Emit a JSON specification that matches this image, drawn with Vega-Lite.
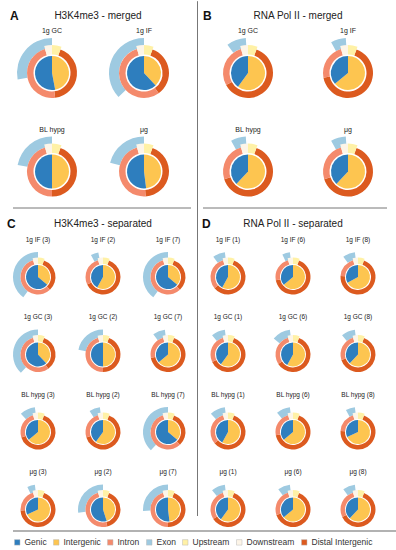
{
"$schema": "https://vega.github.io/schema/vega-lite/v6.json",
"padding": {"left": 7, "top": 0, "right": 0, "bottom": 0},
"config": {
  "font": "Liberation Sans",
  "view": {"stroke": null},
  "legend": {"orient": "bottom", "direction": "horizontal", "labelFontSize": 8.5, "labelColor": "#333", "symbolType": "square", "symbolSize": 30, "symbolStrokeColor": "#bbb", "symbolStrokeWidth": 0.5, "columnPadding": 5, "labelOffset": 3, "offset": 6}
},
"data": {"values": [
{"panel":"A","sample":"1g GC","feature":"Intergenic","start":0,"end":0.47},
{"panel":"A","sample":"1g GC","feature":"Genic","start":0.47,"end":1},
{"panel":"A","sample":"1g GC","feature":"Upstream","start":0,"end":0.055},
{"panel":"A","sample":"1g GC","feature":"Distal Intergenic","start":0.055,"end":0.48},
{"panel":"A","sample":"1g GC","feature":"Intron","start":0.48,"end":0.955},
{"panel":"A","sample":"1g GC","feature":"Downstream","start":0.955,"end":1},
{"panel":"A","sample":"1g GC","feature":"Exon","start":0.72,"end":1},
{"panel":"A","sample":"1g IF","feature":"Intergenic","start":0,"end":0.38},
{"panel":"A","sample":"1g IF","feature":"Genic","start":0.38,"end":1},
{"panel":"A","sample":"1g IF","feature":"Upstream","start":0,"end":0.055},
{"panel":"A","sample":"1g IF","feature":"Distal Intergenic","start":0.055,"end":0.40},
{"panel":"A","sample":"1g IF","feature":"Intron","start":0.40,"end":0.955},
{"panel":"A","sample":"1g IF","feature":"Downstream","start":0.955,"end":1},
{"panel":"A","sample":"1g IF","feature":"Exon","start":0.63,"end":1},
{"panel":"A","sample":"BL hypg","feature":"Intergenic","start":0,"end":0.50},
{"panel":"A","sample":"BL hypg","feature":"Genic","start":0.50,"end":1},
{"panel":"A","sample":"BL hypg","feature":"Upstream","start":0,"end":0.055},
{"panel":"A","sample":"BL hypg","feature":"Distal Intergenic","start":0.055,"end":0.50},
{"panel":"A","sample":"BL hypg","feature":"Intron","start":0.50,"end":0.955},
{"panel":"A","sample":"BL hypg","feature":"Downstream","start":0.955,"end":1},
{"panel":"A","sample":"BL hypg","feature":"Exon","start":0.78,"end":1},
{"panel":"A","sample":"μg","feature":"Intergenic","start":0,"end":0.48},
{"panel":"A","sample":"μg","feature":"Genic","start":0.48,"end":1},
{"panel":"A","sample":"μg","feature":"Upstream","start":0,"end":0.055},
{"panel":"A","sample":"μg","feature":"Distal Intergenic","start":0.055,"end":0.49},
{"panel":"A","sample":"μg","feature":"Intron","start":0.49,"end":0.955},
{"panel":"A","sample":"μg","feature":"Downstream","start":0.955,"end":1},
{"panel":"A","sample":"μg","feature":"Exon","start":0.79,"end":1},
{"panel":"B","sample":"1g GC","feature":"Intergenic","start":0,"end":0.60},
{"panel":"B","sample":"1g GC","feature":"Genic","start":0.60,"end":1},
{"panel":"B","sample":"1g GC","feature":"Upstream","start":0,"end":0.055},
{"panel":"B","sample":"1g GC","feature":"Distal Intergenic","start":0.055,"end":0.67},
{"panel":"B","sample":"1g GC","feature":"Intron","start":0.67,"end":0.955},
{"panel":"B","sample":"1g GC","feature":"Downstream","start":0.955,"end":1},
{"panel":"B","sample":"1g GC","feature":"Exon","start":0.90,"end":0.99},
{"panel":"B","sample":"1g IF","feature":"Intergenic","start":0,"end":0.64},
{"panel":"B","sample":"1g IF","feature":"Genic","start":0.64,"end":1},
{"panel":"B","sample":"1g IF","feature":"Upstream","start":0,"end":0.055},
{"panel":"B","sample":"1g IF","feature":"Distal Intergenic","start":0.055,"end":0.72},
{"panel":"B","sample":"1g IF","feature":"Intron","start":0.72,"end":0.955},
{"panel":"B","sample":"1g IF","feature":"Downstream","start":0.955,"end":1},
{"panel":"B","sample":"1g IF","feature":"Exon","start":0.92,"end":0.99},
{"panel":"B","sample":"BL hypg","feature":"Intergenic","start":0,"end":0.62},
{"panel":"B","sample":"BL hypg","feature":"Genic","start":0.62,"end":1},
{"panel":"B","sample":"BL hypg","feature":"Upstream","start":0,"end":0.055},
{"panel":"B","sample":"BL hypg","feature":"Distal Intergenic","start":0.055,"end":0.70},
{"panel":"B","sample":"BL hypg","feature":"Intron","start":0.70,"end":0.955},
{"panel":"B","sample":"BL hypg","feature":"Downstream","start":0.955,"end":1},
{"panel":"B","sample":"BL hypg","feature":"Exon","start":0.92,"end":0.99},
{"panel":"B","sample":"μg","feature":"Intergenic","start":0,"end":0.62},
{"panel":"B","sample":"μg","feature":"Genic","start":0.62,"end":1},
{"panel":"B","sample":"μg","feature":"Upstream","start":0,"end":0.055},
{"panel":"B","sample":"μg","feature":"Distal Intergenic","start":0.055,"end":0.70},
{"panel":"B","sample":"μg","feature":"Intron","start":0.70,"end":0.955},
{"panel":"B","sample":"μg","feature":"Downstream","start":0.955,"end":1},
{"panel":"B","sample":"μg","feature":"Exon","start":0.92,"end":0.99},
{"panel":"C","sample":"1g IF (3)","feature":"Intergenic","start":0,"end":0.36},
{"panel":"C","sample":"1g IF (3)","feature":"Genic","start":0.36,"end":1},
{"panel":"C","sample":"1g IF (3)","feature":"Upstream","start":0,"end":0.055},
{"panel":"C","sample":"1g IF (3)","feature":"Distal Intergenic","start":0.055,"end":0.38},
{"panel":"C","sample":"1g IF (3)","feature":"Intron","start":0.38,"end":0.955},
{"panel":"C","sample":"1g IF (3)","feature":"Downstream","start":0.955,"end":1},
{"panel":"C","sample":"1g IF (3)","feature":"Exon","start":0.60,"end":1},
{"panel":"C","sample":"1g IF (2)","feature":"Intergenic","start":0,"end":0.58},
{"panel":"C","sample":"1g IF (2)","feature":"Genic","start":0.58,"end":1},
{"panel":"C","sample":"1g IF (2)","feature":"Upstream","start":0,"end":0.055},
{"panel":"C","sample":"1g IF (2)","feature":"Distal Intergenic","start":0.055,"end":0.68},
{"panel":"C","sample":"1g IF (2)","feature":"Intron","start":0.68,"end":0.955},
{"panel":"C","sample":"1g IF (2)","feature":"Downstream","start":0.955,"end":1},
{"panel":"C","sample":"1g IF (2)","feature":"Exon","start":0.92,"end":0.97},
{"panel":"C","sample":"1g IF (7)","feature":"Intergenic","start":0,"end":0.36},
{"panel":"C","sample":"1g IF (7)","feature":"Genic","start":0.36,"end":1},
{"panel":"C","sample":"1g IF (7)","feature":"Upstream","start":0,"end":0.055},
{"panel":"C","sample":"1g IF (7)","feature":"Distal Intergenic","start":0.055,"end":0.38},
{"panel":"C","sample":"1g IF (7)","feature":"Intron","start":0.38,"end":0.955},
{"panel":"C","sample":"1g IF (7)","feature":"Downstream","start":0.955,"end":1},
{"panel":"C","sample":"1g IF (7)","feature":"Exon","start":0.60,"end":1},
{"panel":"C","sample":"1g GC (3)","feature":"Intergenic","start":0,"end":0.38},
{"panel":"C","sample":"1g GC (3)","feature":"Genic","start":0.38,"end":1},
{"panel":"C","sample":"1g GC (3)","feature":"Upstream","start":0,"end":0.055},
{"panel":"C","sample":"1g GC (3)","feature":"Distal Intergenic","start":0.055,"end":0.40},
{"panel":"C","sample":"1g GC (3)","feature":"Intron","start":0.40,"end":0.955},
{"panel":"C","sample":"1g GC (3)","feature":"Downstream","start":0.955,"end":1},
{"panel":"C","sample":"1g GC (3)","feature":"Exon","start":0.62,"end":1},
{"panel":"C","sample":"1g GC (2)","feature":"Intergenic","start":0,"end":0.50},
{"panel":"C","sample":"1g GC (2)","feature":"Genic","start":0.50,"end":1},
{"panel":"C","sample":"1g GC (2)","feature":"Upstream","start":0,"end":0.055},
{"panel":"C","sample":"1g GC (2)","feature":"Distal Intergenic","start":0.055,"end":0.50},
{"panel":"C","sample":"1g GC (2)","feature":"Intron","start":0.50,"end":0.955},
{"panel":"C","sample":"1g GC (2)","feature":"Downstream","start":0.955,"end":1},
{"panel":"C","sample":"1g GC (2)","feature":"Exon","start":0.78,"end":1},
{"panel":"C","sample":"1g GC (7)","feature":"Intergenic","start":0,"end":0.64},
{"panel":"C","sample":"1g GC (7)","feature":"Genic","start":0.64,"end":1},
{"panel":"C","sample":"1g GC (7)","feature":"Upstream","start":0,"end":0.055},
{"panel":"C","sample":"1g GC (7)","feature":"Distal Intergenic","start":0.055,"end":0.72},
{"panel":"C","sample":"1g GC (7)","feature":"Intron","start":0.72,"end":0.955},
{"panel":"C","sample":"1g GC (7)","feature":"Downstream","start":0.955,"end":1},
{"panel":"C","sample":"1g GC (7)","feature":"Exon","start":0.90,"end":0.98},
{"panel":"C","sample":"BL hypg (3)","feature":"Intergenic","start":0,"end":0.64},
{"panel":"C","sample":"BL hypg (3)","feature":"Genic","start":0.64,"end":1},
{"panel":"C","sample":"BL hypg (3)","feature":"Upstream","start":0,"end":0.055},
{"panel":"C","sample":"BL hypg (3)","feature":"Distal Intergenic","start":0.055,"end":0.70},
{"panel":"C","sample":"BL hypg (3)","feature":"Intron","start":0.70,"end":0.955},
{"panel":"C","sample":"BL hypg (3)","feature":"Downstream","start":0.955,"end":1},
{"panel":"C","sample":"BL hypg (3)","feature":"Exon","start":0.88,"end":0.98},
{"panel":"C","sample":"BL hypg (2)","feature":"Intergenic","start":0,"end":0.60},
{"panel":"C","sample":"BL hypg (2)","feature":"Genic","start":0.60,"end":1},
{"panel":"C","sample":"BL hypg (2)","feature":"Upstream","start":0,"end":0.055},
{"panel":"C","sample":"BL hypg (2)","feature":"Distal Intergenic","start":0.055,"end":0.70},
{"panel":"C","sample":"BL hypg (2)","feature":"Intron","start":0.70,"end":0.955},
{"panel":"C","sample":"BL hypg (2)","feature":"Downstream","start":0.955,"end":1},
{"panel":"C","sample":"BL hypg (2)","feature":"Exon","start":0.91,"end":0.98},
{"panel":"C","sample":"BL hypg (7)","feature":"Intergenic","start":0,"end":0.36},
{"panel":"C","sample":"BL hypg (7)","feature":"Genic","start":0.36,"end":1},
{"panel":"C","sample":"BL hypg (7)","feature":"Upstream","start":0,"end":0.055},
{"panel":"C","sample":"BL hypg (7)","feature":"Distal Intergenic","start":0.055,"end":0.38},
{"panel":"C","sample":"BL hypg (7)","feature":"Intron","start":0.38,"end":0.955},
{"panel":"C","sample":"BL hypg (7)","feature":"Downstream","start":0.955,"end":1},
{"panel":"C","sample":"BL hypg (7)","feature":"Exon","start":0.62,"end":1},
{"panel":"C","sample":"μg (3)","feature":"Intergenic","start":0,"end":0.68},
{"panel":"C","sample":"μg (3)","feature":"Genic","start":0.68,"end":1},
{"panel":"C","sample":"μg (3)","feature":"Upstream","start":0,"end":0.055},
{"panel":"C","sample":"μg (3)","feature":"Distal Intergenic","start":0.055,"end":0.74},
{"panel":"C","sample":"μg (3)","feature":"Intron","start":0.74,"end":0.955},
{"panel":"C","sample":"μg (3)","feature":"Downstream","start":0.955,"end":1},
{"panel":"C","sample":"μg (3)","feature":"Exon","start":0.93,"end":0.98},
{"panel":"C","sample":"μg (2)","feature":"Intergenic","start":0,"end":0.45},
{"panel":"C","sample":"μg (2)","feature":"Genic","start":0.45,"end":1},
{"panel":"C","sample":"μg (2)","feature":"Upstream","start":0,"end":0.055},
{"panel":"C","sample":"μg (2)","feature":"Distal Intergenic","start":0.055,"end":0.46},
{"panel":"C","sample":"μg (2)","feature":"Intron","start":0.46,"end":0.955},
{"panel":"C","sample":"μg (2)","feature":"Downstream","start":0.955,"end":1},
{"panel":"C","sample":"μg (2)","feature":"Exon","start":0.73,"end":1},
{"panel":"C","sample":"μg (7)","feature":"Intergenic","start":0,"end":0.48},
{"panel":"C","sample":"μg (7)","feature":"Genic","start":0.48,"end":1},
{"panel":"C","sample":"μg (7)","feature":"Upstream","start":0,"end":0.055},
{"panel":"C","sample":"μg (7)","feature":"Distal Intergenic","start":0.055,"end":0.50},
{"panel":"C","sample":"μg (7)","feature":"Intron","start":0.50,"end":0.955},
{"panel":"C","sample":"μg (7)","feature":"Downstream","start":0.955,"end":1},
{"panel":"C","sample":"μg (7)","feature":"Exon","start":0.74,"end":1},
{"panel":"D","sample":"1g IF (1)","feature":"Intergenic","start":0,"end":0.58},
{"panel":"D","sample":"1g IF (1)","feature":"Genic","start":0.58,"end":1},
{"panel":"D","sample":"1g IF (1)","feature":"Upstream","start":0,"end":0.055},
{"panel":"D","sample":"1g IF (1)","feature":"Distal Intergenic","start":0.055,"end":0.64},
{"panel":"D","sample":"1g IF (1)","feature":"Intron","start":0.64,"end":0.955},
{"panel":"D","sample":"1g IF (1)","feature":"Downstream","start":0.955,"end":1},
{"panel":"D","sample":"1g IF (1)","feature":"Exon","start":0.90,"end":0.98},
{"panel":"D","sample":"1g IF (6)","feature":"Intergenic","start":0,"end":0.64},
{"panel":"D","sample":"1g IF (6)","feature":"Genic","start":0.64,"end":1},
{"panel":"D","sample":"1g IF (6)","feature":"Upstream","start":0,"end":0.055},
{"panel":"D","sample":"1g IF (6)","feature":"Distal Intergenic","start":0.055,"end":0.72},
{"panel":"D","sample":"1g IF (6)","feature":"Intron","start":0.72,"end":0.955},
{"panel":"D","sample":"1g IF (6)","feature":"Downstream","start":0.955,"end":1},
{"panel":"D","sample":"1g IF (6)","feature":"Exon","start":0.93,"end":0.98},
{"panel":"D","sample":"1g IF (8)","feature":"Intergenic","start":0,"end":0.67},
{"panel":"D","sample":"1g IF (8)","feature":"Genic","start":0.67,"end":1},
{"panel":"D","sample":"1g IF (8)","feature":"Upstream","start":0,"end":0.055},
{"panel":"D","sample":"1g IF (8)","feature":"Distal Intergenic","start":0.055,"end":0.76},
{"panel":"D","sample":"1g IF (8)","feature":"Intron","start":0.76,"end":0.955},
{"panel":"D","sample":"1g IF (8)","feature":"Downstream","start":0.955,"end":1},
{"panel":"D","sample":"1g IF (8)","feature":"Exon","start":0.90,"end":0.98},
{"panel":"D","sample":"1g GC (1)","feature":"Intergenic","start":0,"end":0.60},
{"panel":"D","sample":"1g GC (1)","feature":"Genic","start":0.60,"end":1},
{"panel":"D","sample":"1g GC (1)","feature":"Upstream","start":0,"end":0.055},
{"panel":"D","sample":"1g GC (1)","feature":"Distal Intergenic","start":0.055,"end":0.68},
{"panel":"D","sample":"1g GC (1)","feature":"Intron","start":0.68,"end":0.955},
{"panel":"D","sample":"1g GC (1)","feature":"Downstream","start":0.955,"end":1},
{"panel":"D","sample":"1g GC (1)","feature":"Exon","start":0.89,"end":0.98},
{"panel":"D","sample":"1g GC (6)","feature":"Intergenic","start":0,"end":0.58},
{"panel":"D","sample":"1g GC (6)","feature":"Genic","start":0.58,"end":1},
{"panel":"D","sample":"1g GC (6)","feature":"Upstream","start":0,"end":0.055},
{"panel":"D","sample":"1g GC (6)","feature":"Distal Intergenic","start":0.055,"end":0.66},
{"panel":"D","sample":"1g GC (6)","feature":"Intron","start":0.66,"end":0.955},
{"panel":"D","sample":"1g GC (6)","feature":"Downstream","start":0.955,"end":1},
{"panel":"D","sample":"1g GC (6)","feature":"Exon","start":0.86,"end":0.98},
{"panel":"D","sample":"1g GC (8)","feature":"Intergenic","start":0,"end":0.62},
{"panel":"D","sample":"1g GC (8)","feature":"Genic","start":0.62,"end":1},
{"panel":"D","sample":"1g GC (8)","feature":"Upstream","start":0,"end":0.055},
{"panel":"D","sample":"1g GC (8)","feature":"Distal Intergenic","start":0.055,"end":0.70},
{"panel":"D","sample":"1g GC (8)","feature":"Intron","start":0.70,"end":0.955},
{"panel":"D","sample":"1g GC (8)","feature":"Downstream","start":0.955,"end":1},
{"panel":"D","sample":"1g GC (8)","feature":"Exon","start":0.89,"end":0.98},
{"panel":"D","sample":"BL hypg (1)","feature":"Intergenic","start":0,"end":0.58},
{"panel":"D","sample":"BL hypg (1)","feature":"Genic","start":0.58,"end":1},
{"panel":"D","sample":"BL hypg (1)","feature":"Upstream","start":0,"end":0.055},
{"panel":"D","sample":"BL hypg (1)","feature":"Distal Intergenic","start":0.055,"end":0.64},
{"panel":"D","sample":"BL hypg (1)","feature":"Intron","start":0.64,"end":0.955},
{"panel":"D","sample":"BL hypg (1)","feature":"Downstream","start":0.955,"end":1},
{"panel":"D","sample":"BL hypg (1)","feature":"Exon","start":0.88,"end":0.98},
{"panel":"D","sample":"BL hypg (6)","feature":"Intergenic","start":0,"end":0.64},
{"panel":"D","sample":"BL hypg (6)","feature":"Genic","start":0.64,"end":1},
{"panel":"D","sample":"BL hypg (6)","feature":"Upstream","start":0,"end":0.055},
{"panel":"D","sample":"BL hypg (6)","feature":"Distal Intergenic","start":0.055,"end":0.72},
{"panel":"D","sample":"BL hypg (6)","feature":"Intron","start":0.72,"end":0.955},
{"panel":"D","sample":"BL hypg (6)","feature":"Downstream","start":0.955,"end":1},
{"panel":"D","sample":"BL hypg (6)","feature":"Exon","start":0.89,"end":0.98},
{"panel":"D","sample":"BL hypg (8)","feature":"Intergenic","start":0,"end":0.68},
{"panel":"D","sample":"BL hypg (8)","feature":"Genic","start":0.68,"end":1},
{"panel":"D","sample":"BL hypg (8)","feature":"Upstream","start":0,"end":0.055},
{"panel":"D","sample":"BL hypg (8)","feature":"Distal Intergenic","start":0.055,"end":0.76},
{"panel":"D","sample":"BL hypg (8)","feature":"Intron","start":0.76,"end":0.955},
{"panel":"D","sample":"BL hypg (8)","feature":"Downstream","start":0.955,"end":1},
{"panel":"D","sample":"BL hypg (8)","feature":"Exon","start":0.92,"end":0.98},
{"panel":"D","sample":"μg (1)","feature":"Intergenic","start":0,"end":0.60},
{"panel":"D","sample":"μg (1)","feature":"Genic","start":0.60,"end":1},
{"panel":"D","sample":"μg (1)","feature":"Upstream","start":0,"end":0.055},
{"panel":"D","sample":"μg (1)","feature":"Distal Intergenic","start":0.055,"end":0.66},
{"panel":"D","sample":"μg (1)","feature":"Intron","start":0.66,"end":0.955},
{"panel":"D","sample":"μg (1)","feature":"Downstream","start":0.955,"end":1},
{"panel":"D","sample":"μg (1)","feature":"Exon","start":0.89,"end":0.98},
{"panel":"D","sample":"μg (6)","feature":"Intergenic","start":0,"end":0.64},
{"panel":"D","sample":"μg (6)","feature":"Genic","start":0.64,"end":1},
{"panel":"D","sample":"μg (6)","feature":"Upstream","start":0,"end":0.055},
{"panel":"D","sample":"μg (6)","feature":"Distal Intergenic","start":0.055,"end":0.70},
{"panel":"D","sample":"μg (6)","feature":"Intron","start":0.70,"end":0.955},
{"panel":"D","sample":"μg (6)","feature":"Downstream","start":0.955,"end":1},
{"panel":"D","sample":"μg (6)","feature":"Exon","start":0.90,"end":0.98},
{"panel":"D","sample":"μg (8)","feature":"Intergenic","start":0,"end":0.62},
{"panel":"D","sample":"μg (8)","feature":"Genic","start":0.62,"end":1},
{"panel":"D","sample":"μg (8)","feature":"Upstream","start":0,"end":0.055},
{"panel":"D","sample":"μg (8)","feature":"Distal Intergenic","start":0.055,"end":0.68},
{"panel":"D","sample":"μg (8)","feature":"Intron","start":0.68,"end":0.955},
{"panel":"D","sample":"μg (8)","feature":"Downstream","start":0.955,"end":1},
{"panel":"D","sample":"μg (8)","feature":"Exon","start":0.90,"end":0.98}
]},
"spacing": 0,
"vconcat": [
 {"hconcat": [
  {"vconcat": [
   {"transform": [{"filter": "datum.panel === 'A'"}],
    "title": {"text": "A", "anchor": "start", "fontSize": 12, "fontWeight": "bold", "offset": -12, "dx": -3, "color": "#111"},
    "facet": {"field": "sample", "type": "nominal", "sort": ["1g GC", "1g IF", "BL hypg", "μg"],
      "header": {"title": "H3K4me3 - merged", "titleFontSize": 10, "titleFontWeight": "normal", "titleColor": "#222", "titlePadding": 6, "labelFontSize": 7, "labelPadding": 4, "labelColor": "#222"}},
    "columns": 2,
    "spacing": {"row": 17.5, "column": 14},
    "spec": {"width": 78, "height": 70, "layer": [
      {"transform": [{"filter": "datum.feature === 'Exon'"}], "mark": {"type": "arc", "radius": 35, "radius2": 25},
       "encoding": {"theta": {"field": "start", "type": "quantitative", "stack": null, "scale": {"domain": [0, 1], "range": [0, 6.283185]}}, "theta2": {"field": "end"},
        "color": {"field": "feature", "type": "nominal", "scale": {"domain": ["Genic", "Intergenic", "Intron", "Exon", "Upstream", "Downstream", "Distal Intergenic"], "range": ["#2e7ebe", "#fdc550", "#f48a6c", "#9ecae1", "#fff1a6", "#fdf5e8", "#dc5a1f"]}, "legend": {"title": null}}}},
      {"transform": [{"filter": "datum.feature === 'Intron' || datum.feature === 'Distal Intergenic'"}], "mark": {"type": "arc", "radius": 25, "radius2": 18.5},
       "encoding": {"theta": {"field": "start", "type": "quantitative", "stack": null, "scale": {"domain": [0, 1], "range": [0, 6.283185]}}, "theta2": {"field": "end"},
        "color": {"field": "feature", "type": "nominal", "legend": {"title": null}}}},
      {"transform": [{"filter": "datum.feature === 'Upstream' || datum.feature === 'Downstream'"}], "mark": {"type": "arc", "radius": 28, "radius2": 18.5},
       "encoding": {"theta": {"field": "start", "type": "quantitative", "stack": null, "scale": {"domain": [0, 1], "range": [0, 6.283185]}}, "theta2": {"field": "end"},
        "color": {"field": "feature", "type": "nominal", "legend": {"title": null}}}},
      {"transform": [{"filter": "datum.feature === 'Genic' || datum.feature === 'Intergenic'"}], "mark": {"type": "arc", "radius": 17},
       "encoding": {"theta": {"field": "start", "type": "quantitative", "stack": null, "scale": {"domain": [0, 1], "range": [0, 6.283185]}}, "theta2": {"field": "end"},
        "color": {"field": "feature", "type": "nominal", "legend": {"title": null}}}}
    ]}
   },
   {"data": {"values": [{}]}, "width": 178, "height": 10, "mark": {"type": "rule", "color": "#777", "strokeWidth": 1},
    "encoding": {"y": {"datum": 1, "type": "quantitative", "scale": {"domain": [0, 1]}, "axis": null}}},
   {"transform": [{"filter": "datum.panel === 'C'"}],
    "title": {"text": "C", "anchor": "start", "fontSize": 12, "fontWeight": "bold", "offset": -12, "dx": -6, "color": "#111"},
    "facet": {"field": "sample", "type": "nominal", "sort": ["1g IF (3)", "1g IF (2)", "1g IF (7)", "1g GC (3)", "1g GC (2)", "1g GC (7)", "BL hypg (3)", "BL hypg (2)", "BL hypg (7)", "μg (3)", "μg (2)", "μg (7)"],
      "header": {"title": "H3K4me3 - separated", "titleFontSize": 10, "titleFontWeight": "normal", "titleColor": "#222", "titlePadding": 7, "labelFontSize": 6.5, "labelPadding": 9, "labelColor": "#222"}},
    "columns": 3,
    "spacing": {"row": 15.5, "column": 15},
    "spec": {"width": 50, "height": 45.5, "layer": [
      {"transform": [{"filter": "datum.feature === 'Exon'"}], "mark": {"type": "arc", "radius": 25, "radius2": 17.5, "yOffset": 2.25},
       "encoding": {"theta": {"field": "start", "type": "quantitative", "stack": null, "scale": {"domain": [0, 1], "range": [0, 6.283185]}}, "theta2": {"field": "end"},
        "color": {"field": "feature", "type": "nominal", "legend": {"title": null}}}},
      {"transform": [{"filter": "datum.feature === 'Intron' || datum.feature === 'Distal Intergenic'"}], "mark": {"type": "arc", "radius": 17.5, "radius2": 13, "yOffset": 2.25},
       "encoding": {"theta": {"field": "start", "type": "quantitative", "stack": null, "scale": {"domain": [0, 1], "range": [0, 6.283185]}}, "theta2": {"field": "end"},
        "color": {"field": "feature", "type": "nominal", "legend": {"title": null}}}},
      {"transform": [{"filter": "datum.feature === 'Upstream' || datum.feature === 'Downstream'"}], "mark": {"type": "arc", "radius": 19.5, "radius2": 13, "yOffset": 2.25},
       "encoding": {"theta": {"field": "start", "type": "quantitative", "stack": null, "scale": {"domain": [0, 1], "range": [0, 6.283185]}}, "theta2": {"field": "end"},
        "color": {"field": "feature", "type": "nominal", "legend": {"title": null}}}},
      {"transform": [{"filter": "datum.feature === 'Genic' || datum.feature === 'Intergenic'"}], "mark": {"type": "arc", "radius": 12, "yOffset": 2.25},
       "encoding": {"theta": {"field": "start", "type": "quantitative", "stack": null, "scale": {"domain": [0, 1], "range": [0, 6.283185]}}, "theta2": {"field": "end"},
        "color": {"field": "feature", "type": "nominal", "legend": {"title": null}}}}
    ]}
   }
  ], "spacing": 0},
  {"data": {"values": [{}]}, "width": 1, "height": 478, "mark": {"type": "rule", "color": "#777", "strokeWidth": 1},
   "encoding": {"x": {"datum": 0, "type": "quantitative", "scale": {"domain": [0, 1]}, "axis": null},
     "y": {"datum": 0, "type": "quantitative", "scale": {"domain": [0, 1]}, "axis": null}, "y2": {"datum": 1.077}}},
  {"vconcat": [
   {"transform": [{"filter": "datum.panel === 'B'"}],
    "title": {"text": "B", "anchor": "start", "fontSize": 12, "fontWeight": "bold", "offset": -12, "dx": 0, "color": "#111"},
    "facet": {"field": "sample", "type": "nominal", "sort": ["1g GC", "1g IF", "BL hypg", "μg"],
      "header": {"title": "RNA Pol II - merged", "titleFontSize": 10, "titleFontWeight": "normal", "titleColor": "#222", "titlePadding": 6, "labelFontSize": 7, "labelPadding": 4, "labelColor": "#222"}},
    "columns": 2,
    "spacing": {"row": 17.5, "column": 10},
    "spec": {"width": 90, "height": 70, "layer": [
      {"transform": [{"filter": "datum.feature === 'Exon'"}], "mark": {"type": "arc", "radius": 35, "radius2": 25},
       "encoding": {"theta": {"field": "start", "type": "quantitative", "stack": null, "scale": {"domain": [0, 1], "range": [0, 6.283185]}}, "theta2": {"field": "end"},
        "color": {"field": "feature", "type": "nominal", "legend": {"title": null}}}},
      {"transform": [{"filter": "datum.feature === 'Intron' || datum.feature === 'Distal Intergenic'"}], "mark": {"type": "arc", "radius": 25, "radius2": 18.5},
       "encoding": {"theta": {"field": "start", "type": "quantitative", "stack": null, "scale": {"domain": [0, 1], "range": [0, 6.283185]}}, "theta2": {"field": "end"},
        "color": {"field": "feature", "type": "nominal", "legend": {"title": null}}}},
      {"transform": [{"filter": "datum.feature === 'Upstream' || datum.feature === 'Downstream'"}], "mark": {"type": "arc", "radius": 28, "radius2": 18.5},
       "encoding": {"theta": {"field": "start", "type": "quantitative", "stack": null, "scale": {"domain": [0, 1], "range": [0, 6.283185]}}, "theta2": {"field": "end"},
        "color": {"field": "feature", "type": "nominal", "legend": {"title": null}}}},
      {"transform": [{"filter": "datum.feature === 'Genic' || datum.feature === 'Intergenic'"}], "mark": {"type": "arc", "radius": 17},
       "encoding": {"theta": {"field": "start", "type": "quantitative", "stack": null, "scale": {"domain": [0, 1], "range": [0, 6.283185]}}, "theta2": {"field": "end"},
        "color": {"field": "feature", "type": "nominal", "legend": {"title": null}}}}
    ]}
   },
   {"data": {"values": [{}]}, "width": 184, "height": 10, "mark": {"type": "rule", "color": "#777", "strokeWidth": 1},
    "encoding": {"y": {"datum": 1, "type": "quantitative", "scale": {"domain": [0, 1]}, "axis": null}}},
   {"transform": [{"filter": "datum.panel === 'D'"}],
    "title": {"text": "D", "anchor": "start", "fontSize": 12, "fontWeight": "bold", "offset": -12, "dx": -1, "color": "#111"},
    "facet": {"field": "sample", "type": "nominal", "sort": ["1g IF (1)", "1g IF (6)", "1g IF (8)", "1g GC (1)", "1g GC (6)", "1g GC (8)", "BL hypg (1)", "BL hypg (6)", "BL hypg (8)", "μg (1)", "μg (6)", "μg (8)"],
      "header": {"title": "RNA Pol II - separated", "titleFontSize": 10, "titleFontWeight": "normal", "titleColor": "#222", "titlePadding": 7, "labelFontSize": 6.5, "labelPadding": 9, "labelColor": "#222"}},
    "columns": 3,
    "spacing": {"row": 15.5, "column": 15},
    "spec": {"width": 50, "height": 45.5, "layer": [
      {"transform": [{"filter": "datum.feature === 'Exon'"}], "mark": {"type": "arc", "radius": 25, "radius2": 17.5, "yOffset": 2.25},
       "encoding": {"theta": {"field": "start", "type": "quantitative", "stack": null, "scale": {"domain": [0, 1], "range": [0, 6.283185]}}, "theta2": {"field": "end"},
        "color": {"field": "feature", "type": "nominal", "legend": {"title": null}}}},
      {"transform": [{"filter": "datum.feature === 'Intron' || datum.feature === 'Distal Intergenic'"}], "mark": {"type": "arc", "radius": 17.5, "radius2": 13, "yOffset": 2.25},
       "encoding": {"theta": {"field": "start", "type": "quantitative", "stack": null, "scale": {"domain": [0, 1], "range": [0, 6.283185]}}, "theta2": {"field": "end"},
        "color": {"field": "feature", "type": "nominal", "legend": {"title": null}}}},
      {"transform": [{"filter": "datum.feature === 'Upstream' || datum.feature === 'Downstream'"}], "mark": {"type": "arc", "radius": 19.5, "radius2": 13, "yOffset": 2.25},
       "encoding": {"theta": {"field": "start", "type": "quantitative", "stack": null, "scale": {"domain": [0, 1], "range": [0, 6.283185]}}, "theta2": {"field": "end"},
        "color": {"field": "feature", "type": "nominal", "legend": {"title": null}}}},
      {"transform": [{"filter": "datum.feature === 'Genic' || datum.feature === 'Intergenic'"}], "mark": {"type": "arc", "radius": 12, "yOffset": 2.25},
       "encoding": {"theta": {"field": "start", "type": "quantitative", "stack": null, "scale": {"domain": [0, 1], "range": [0, 6.283185]}}, "theta2": {"field": "end"},
        "color": {"field": "feature", "type": "nominal", "legend": {"title": null}}}}
    ]}
   }
  ], "spacing": 0}
 ], "spacing": 3.5},
 {"data": {"values": [{}]}, "width": 383, "height": 1, "mark": {"type": "rule", "color": "#999", "strokeWidth": 1.5},
  "encoding": {"y": {"datum": 1, "type": "quantitative", "scale": {"domain": [0, 1]}, "axis": null}}}
]
}
